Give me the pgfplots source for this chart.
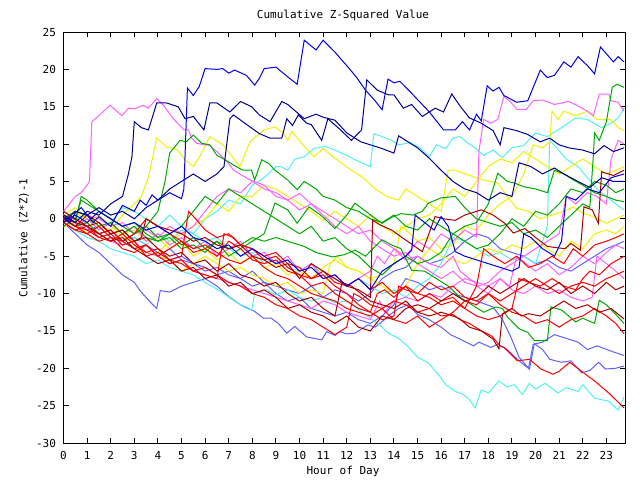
\documentclass[border=0pt]{standalone}
\usepackage{pgfplots}
\pgfplotsset{compat=1.18}
\usepackage{fontspec}
\setmainfont{DejaVu Sans Mono}
\definecolor{cR}{HTML}{FF0000}
\definecolor{cDR}{HTML}{A80000}
\definecolor{cG}{HTML}{00A800}
\definecolor{cB}{HTML}{0000E0}
\definecolor{cNB}{HTML}{000090}
\definecolor{cLB}{HTML}{6060FF}
\definecolor{cM}{HTML}{FF60FF}
\definecolor{cC}{HTML}{50F0F0}
\definecolor{cY}{HTML}{F0F000}
\newcommand{\gf}{\fontsize{11bp}{12bp}\selectfont}
\begin{document}
\begin{tikzpicture}
\useasboundingbox (0,0) rectangle (640bp,480bp);
\begin{axis}[at={(63.5bp,37bp)},anchor=south west,scale only axis,
  width=561.5bp,height=411bp,xmin=0,xmax=23.79,ymin=-30,ymax=25,
  xtick={0,1,2,3,4,5,6,7,8,9,10,11,12,13,14,15,16,17,18,19,20,21,22,23},
  xticklabels={0,1,2,3,4,5,6,7,8,9,10,11,12,13,14,15,16,17,18,19,20,21,22,23},
  ytick={-30,-25,-20,-15,-10,-5,0,5,10,15,20,25},
  yticklabels={-30,-25,-20,-15,-10,-5,0,5,10,15,20,25},
  tick align=inside, major tick length=5bp,
  tick style={black,line width=1bp},
  axis line style={black,line width=1bp},
  ticklabel style={font=\gf},
  xticklabel style={yshift=-5bp},
  yticklabel style={xshift=-4bp},
  every axis plot/.append style={line width=1bp,line join=miter,mark=none},
  clip=true]
% LB2
\addplot[cLB] coordinates {(0,0)(0.5,-1)(1,-0.5)(1.5,-2)(2,-1.5)(2.5,-3)(3,-2.5)(3.5,-3.5)(4,-4.5)(4.5,-5.5)(5,-5)(5.5,-6)(6,-6.5)(6.5,-7.5)(7,-7)(7.5,-8)(8,-9)(8.5,-8.5)(9,-10)(9.5,-11)(10,-10.5)(10.5,-12)(11,-12.5)(11.5,-13)(12,-12.5)(12.5,-13.5)(13,-14)(13.5,-13)(14,-11.5)(14.3,-9)(14.5,-8)(15,-8.5)(15.5,-9.5)(16,-9)(16.5,-10)(17,-10.5)(17.5,-11)(18.2,-11.8)(18.6,-13.5)(18.95,-15.8)(19.3,-18.5)(19.7,-20)(19.9,-16.8)(20.3,-16.5)(20.8,-15.5)(21.3,-16)(21.8,-16.5)(22.2,-17.5)(22.6,-17)(23.2,-17.7)(23.75,-18.3)};
% LB1
\addplot[cLB] coordinates {(0,-0.5)(0.5,-2)(1,-3.5)(1.5,-4.5)(2,-6)(2.5,-7.5)(3,-8.5)(3.24,-9.6)(3.66,-11.1)(3.95,-12)(4.1,-9.6)(4.5,-9.8)(5,-9)(5.5,-8.5)(6,-8)(6.5,-9)(7,-10.4)(7.5,-11.5)(8.1,-12.4)(8.47,-13.3)(8.8,-13.3)(9.1,-14)(9.46,-15.3)(9.8,-14.4)(10.3,-15.8)(10.94,-16.2)(11.15,-15.1)(11.5,-15.6)(11.7,-15.1)(12,-15.4)(12.35,-15.3)(12.9,-14.2)(13.2,-14.5)(13.6,-13.5)(13.8,-12.9)(14.2,-12)(14.6,-11.5)(15,-12.8)(15.5,-13.5)(16,-14.5)(16.4,-15.5)(16.8,-16.1)(17.37,-17)(17.6,-16.5)(18.1,-17.2)(18.4,-16.8)(18.8,-17.5)(19.3,-19)(19.74,-20.1)(19.95,-16.7)(20.3,-17.5)(20.6,-18.8)(21.1,-19.2)(21.5,-19)(21.95,-20.6)(22.3,-20.3)(22.67,-19.2)(22.96,-20.1)(23.4,-20)(23.75,-19.7)};
% LB3
\addplot[cLB] coordinates {(0,0.5)(0.5,-0.5)(1,-1.5)(1.5,-1)(2,-2.5)(2.5,-3)(3,-4)(3.5,-3.5)(4,-5)(4.5,-4)(5,-5.5)(5.5,-6)(6,-7)(6.5,-6.5)(7,-7.5)(7.5,-8)(8,-7)(8.5,-8.5)(9,-9)(9.5,-9.5)(10,-10)(10.5,-9)(11,-10.5)(11.5,-9.5)(12,-10)(12.5,-11)(13,-10)(13.5,-8)(14,-7)(14.5,-6.5)(15,-5)(15.5,-6)(16,-5.5)(16.5,-4.5)(17,-3)(17.5,-2)(18,-2.5)(18.5,-4)(19,-4.5)(19.5,-5)(20,-6)(20.5,-5.5)(21,-6.5)(21.5,-7)(22,-6)(22.5,-5)(23,-4)(23.4,-3.5)(23.75,-3)};
% C-low
\addplot[cC] coordinates {(0,-0.5)(0.5,-1.5)(1,-2.5)(1.5,-3)(2,-4)(2.5,-4.5)(3,-5)(3.5,-6)(4,-5.5)(4.5,-6.5)(5,-7)(5.5,-7.5)(6,-8.5)(6.6,-9.6)(7.2,-10.9)(7.76,-12)(7.97,-12.2)(8.1,-10)(8.6,-9.5)(9,-10.2)(9.5,-9.5)(10,-10.5)(10.5,-11)(11,-10.5)(11.5,-11.2)(12,-11)(12.35,-11.8)(13,-13.3)(13.4,-14.2)(13.76,-15.3)(14.2,-16)(14.6,-17.1)(15,-18.5)(15.46,-19.3)(15.9,-20.9)(16.2,-22.2)(16.6,-23.1)(16.94,-23.5)(17.2,-24.2)(17.44,-25.3)(17.7,-22.9)(18,-23.3)(18.45,-21.7)(18.8,-22.5)(19.1,-22.2)(19.45,-23.5)(19.74,-22)(20,-22.8)(20.4,-22)(20.95,-23.3)(21.3,-22.6)(21.8,-23.1)(22,-22.2)(22.5,-24)(23.1,-24.4)(23.5,-25.6)(23.75,-23.8)};
% C mid
\addplot[cC] coordinates {(0,1)(0.5,0)(1,0.5)(1.5,-1)(2,-0.5)(2.5,1.5)(3,1)(3.5,0)(4,-1)(4.5,0.5)(5,-1)(5.5,-2)(6,-3)(6.5,-2.5)(7,-4)(7.5,-5)(8,-4.5)(8.5,-6)(9,-5)(9.5,-6.5)(10,-7)(10.5,-6)(11,-7.5)(11.5,-8)(12,-9)(12.5,-8)(13,-9)(13.5,-10)(14,-9.5)(14.5,-10.5)(15,-9)(15.5,-8)(16,-6)(16.5,-2.5)(17,-3)(17.5,-4)(18,-5)(18.5,-4.5)(19,-5.5)(19.5,-5)(20,-6)(20.5,-1)(20.6,10.5)(20.9,9.5)(21.3,8)(21.8,7)(22.2,5.5)(22.6,4)(23,3)(23.4,2)(23.75,1.2)};
% C1
\addplot[cC] coordinates {(0,-0.5)(0.5,-1.5)(1,-1)(1.5,-2.5)(2,-2)(2.5,-3)(3,-2.5)(3.5,-3.5)(4,-2)(4.5,-3)(5,-1.5)(5.5,-2)(6,0)(6.5,1)(7,2.5)(7.5,2)(8,4.5)(8.5,5.5)(9,7)(9.2,7)(9.5,6.5)(9.8,8)(10.2,8.3)(10.6,9.4)(11.1,9.7)(11.5,9.2)(12,8.5)(12.35,7.9)(13,7)(13.15,11.4)(13.5,11)(13.9,10.5)(14.2,9.9)(14.7,10.2)(15.1,9.5)(15.5,8.3)(15.8,9.9)(16.2,9.4)(16.5,10.8)(16.8,11)(17.1,10.2)(17.44,9.5)(17.8,8.5)(18.2,9.2)(18.6,8.2)(19,9.5)(19.5,9.8)(20,11.5)(20.5,11)(21.1,12.2)(21.7,13.5)(22.2,13.3)(22.8,12.2)(23.2,12.8)(23.5,13.5)(23.75,14.8)};
% Y1
\addplot[cY] coordinates {(0,0)(0.5,1)(1,-0.5)(1.5,0.5)(2,-1)(2.5,-2)(3,-1.5)(3.5,-3)(4,-2.5)(4.5,-4)(5,-3)(5.5,-5)(6,-4)(6.5,-5.5)(7,-4.5)(7.5,-6)(8,-5)(8.5,-6.5)(9,-6)(9.5,-7.5)(10,-7)(10.5,-8)(11,-6.5)(11.5,-5.5)(12,-6.5)(12.5,-7)(13,-8)(13.5,-7.5)(14,-6)(14.3,-1)(14.7,-2)(15,-3)(15.5,-2.5)(16,-4)(16.5,-3.5)(17,-1)(17.5,-1.5)(18,0.5)(18.5,2)(19,3)(19.5,6)(19.9,9.9)(20.3,9.5)(20.6,10.3)(20.7,14.4)(20.95,13.3)(21.2,14.4)(21.7,13.8)(22.2,14.4)(22.6,13.3)(23.17,13.3)(23.5,12.2)(23.75,11.8)};
% Y2
\addplot[cY] coordinates {(0,-1)(0.5,-0.5)(1,-2)(1.5,-1)(2,-1.5)(2.5,0.5)(3,2)(3.3,3)(3.6,5.6)(3.95,10.8)(4.37,9.6)(4.8,9.3)(5.15,7.9)(5.5,7)(5.8,8.5)(6.2,11)(6.77,9.9)(7.1,8.5)(7.48,7)(7.9,10.3)(8.5,11.9)(8.96,12.3)(9.3,11.5)(9.5,10.5)(9.67,11.7)(10.2,9.7)(10.6,8.3)(11,9.4)(11.5,8.1)(12.2,6.5)(12.7,5.5)(13.2,4)(13.7,3)(14.2,2.5)(14.5,4)(15,3)(15.5,2)(16,1)(16.3,6.5)(16.6,6.5)(17.4,5.6)(17.8,5.2)(18.4,4.8)(18.8,3)(19.2,1.4)(19.7,1)(20.2,0)(20.7,0.5)(21.2,1)(21.6,1.6)(22,0.8)(22.5,0.2)(23,-0.6)(23.4,0)(23.75,0.5)};
% Y3
\addplot[cY] coordinates {(0,0.5)(0.5,1.5)(1,0)(1.5,-1)(2,-0.5)(2.5,-2.5)(3,-3)(3.5,-4.5)(4,-5)(4.5,-5.5)(5,-7)(5.5,-6)(6,-5)(6.5,-6)(7,-7)(7.5,-6.5)(8,-7.5)(8.5,-8)(9,-9)(9.5,-8.5)(10,-10)(10.5,-9.5)(11,-10)(11.3,-6)(11.6,-5)(12,-6.5)(12.5,-7)(13,-8)(13.5,-9)(14,-10)(14.5,-9)(15,-6)(15.5,-4)(16,-5)(16.5,-5.5)(17,-6)(17.5,-5)(18,-4)(18.5,-4.5)(19,-3.5)(19.5,-4)(20,-3)(20.5,-4)(21,-5)(21.5,-3)(22,-4)(22.5,-2)(23,-1.5)(23.4,-2)(23.75,-1)};
% Y4
\addplot[cY] coordinates {(0,0)(0.5,-1)(1,-0.5)(1.5,-2)(2,-3)(2.5,-2)(3,-3.5)(3.5,-5)(4,-4.5)(4.5,-3)(5,-2)(5.5,-1)(6,0)(6.5,2)(7,1)(7.5,3)(8,3)(8.5,4.5)(9,4)(9.5,3)(10,2)(10.5,1)(11,-0.2)(11.5,1)(12,0)(12.5,-1)(13,0.5)(13.5,-1)(14,-2)(14.5,-1)(15,0)(15.5,0.5)(16,2)(16.5,4)(17,3)(17.5,5)(18,7)(18.5,8)(19,7.5)(19.5,9)(20,8)(20.5,7)(21,6)(21.5,7)(22,8)(22.5,7)(23,6)(23.4,6.5)(23.75,7)};
% M1
\addplot[cM] coordinates {(0,1)(0.25,2)(0.5,3)(0.75,3.5)(1,4.5)(1.1,5)(1.2,13)(1.5,13.8)(1.97,15.2)(2.47,13.8)(2.75,14.8)(3,14.7)(3.38,15.2)(3.6,14.8)(3.95,16.1)(4.23,15.2)(4.65,13.4)(5.1,11.9)(5.3,11.9)(5.43,10.8)(5.64,10.1)(6.2,9.8)(6.5,9)(7,7.4)(7.2,6.5)(7.9,5.2)(8.5,4.5)(9,3)(9.5,2.5)(10,1.2)(10.5,2)(11,0.5)(11.5,-1)(12,-2)(12.5,-1)(13,-3)(13.5,-4)(14,-5)(14.5,-4.5)(15,-6)(15.5,-7)(16,-8)(16.5,-7)(17,-8.5)(17.5,-9)(18,-10)(18.5,-8)(18.9,-9)(19.2,-5)(19.6,-6)(20,-7)(20.5,-6)(21,-7.5)(21.5,-6.5)(22,-5)(22.5,-6)(23,-4.5)(23.4,-3.5)(23.75,-4)};
% M2
\addplot[cM] coordinates {(0,0)(0.5,-1)(1,0)(1.5,-1.5)(2,-0.5)(2.5,-2)(3,-1)(3.5,-3)(4,-2)(4.5,-3.5)(5,-2.5)(5.5,-4)(6,-3)(6.5,-5)(7,-4)(7.5,-3)(8,-5)(8.5,-4.5)(9,-6)(9.5,-5)(10,-7)(10.5,-6)(11,-8)(11.5,-7.5)(12,-9)(12.5,-8)(13,-7)(13.3,-5)(13.6,-6)(14,-4)(14.5,-5)(15,-3)(15.5,-4)(16,-2)(16.5,-3)(17,-1.5)(17.5,-2.4)(17.6,9)(17.8,13.3)(18.1,12.8)(18.4,13.3)(18.66,16.4)(18.95,15.6)(19.23,14.6)(19.6,14.6)(19.9,15.8)(20.3,15.9)(20.8,15.3)(21.4,15.7)(21.8,15.1)(22.2,14.4)(22.45,13.8)(22.7,16.7)(23.1,16.7)(23.2,15.8)(23.5,15.6)(23.75,14.4)};
% M3
\addplot[cM] coordinates {(0,0)(0.5,-0.5)(1,-1.5)(1.5,-2)(2,-3)(2.5,-3.5)(3,-3)(3.5,-4.5)(4,-5)(4.5,-6)(5,-5.5)(5.5,-7)(6,-7.5)(6.5,-8)(7,-8.5)(7.5,-9)(8,-9.5)(8.5,-10)(9,-10.5)(9.5,-11)(10,-11.5)(10.5,-12)(11,-11)(11.5,-11.5)(12,-12.5)(12.5,-13)(13,-13.5)(13.4,-11)(13.6,-12.5)(14,-11)(14.5,-10.5)(15,-11)(15.5,-10)(16,-10.5)(16.5,-9)(17,-8)(17.5,-8.5)(18,-9)(18.5,-8)(19,-9.5)(19.5,-10)(20,-9)(20.5,-10)(21,-9.5)(21.5,-10.5)(22,-11)(22.4,-10.5)(22.6,-5)(23,-6)(23.4,-7)(23.75,-8)};
% M4
\addplot[cM] coordinates {(0,0)(0.5,1)(1,0.5)(1.5,0)(2,-1)(2.5,-0.5)(3,-2)(3.5,-1.5)(4,-2.5)(4.5,-1)(5,-2)(5.5,-1)(6,1)(6.5,3)(7,4)(7.5,3.5)(8,5)(8.5,4)(9,3.5)(9.5,2.5)(10,3.4)(10.5,2)(11,1)(11.5,0)(12,-1)(12.5,-2)(13,-1.5)(13.5,-3)(14,-4)(14.5,-5.5)(15,-5)(15.5,-6)(16,-6.5)(16.5,-5)(16.8,-7)(17.2,-8)(17.6,-9)(18,-8.5)(18.5,-7)(19,-6)(19.5,-5)(20,-4)(20.5,-3)(21,-2)(21.3,3)(21.7,2)(22.2,3.5)(22.6,3)(23,2)(23.2,8)(23.5,10.5)(23.75,10)};
% G1
\addplot[cG] coordinates {(0,-1)(0.5,0)(0.75,2.5)(1,2)(1.5,1)(2,0)(2.5,-1)(3,-2)(3.5,-1)(4,1)(4.3,5)(4.5,8.8)(4.94,10.5)(5.2,10.3)(5.5,11.2)(5.86,10.1)(6.2,9.9)(6.5,8.5)(6.8,8)(7.2,7.2)(7.6,6.5)(7.97,6.5)(8.1,5.2)(8.4,7.9)(8.7,7.4)(8.96,6.5)(9.5,5.2)(9.9,3.9)(10.2,5)(10.7,4)(11,3)(11.5,2.5)(12,1.5)(12.5,1)(13,0)(13.5,-0.5)(14,0.5)(14.5,-1)(15,-1.5)(15.5,0)(16,-1)(16.5,-2)(17,-1)(17.5,-0.5)(18,2)(18.4,6.1)(18.8,5)(19.1,4.8)(19.5,4.3)(20,4)(20.5,3.5)(20.8,6.5)(21.2,6)(21.6,5.2)(22,4.5)(22.5,3.5)(23,3)(23.4,2.5)(23.75,2.3)};
% G-right
\addplot[cG] coordinates {(0,0)(0.5,-1)(1,-0.5)(1.5,-2)(2,-1.5)(2.5,-3)(3,-2)(3.5,-1)(4,-2.5)(4.5,-2)(5,-3.5)(5.5,-2.5)(6,-4)(6.5,-3)(7,-5)(7.5,-4)(8,-3)(8.5,-2)(8.96,2.1)(9.5,1.2)(9.9,-0.6)(10.4,1.6)(10.9,0.5)(11.5,-1.3)(12,0.5)(12.35,2.1)(12.8,1)(13.5,-0.6)(13.9,0.2)(14.3,0.7)(14.8,0.5)(15.2,1)(15.46,2.1)(16,2.8)(16.6,3)(17,1.5)(17.5,0)(18,-0.5)(18.5,-1)(19,-0.5)(19.5,-2)(20,-1.5)(20.5,-2.5)(21,-1)(21.5,0.5)(22,2)(22.3,1.5)(22.46,9)(22.5,11.5)(22.7,10.5)(23,13)(23.25,17.6)(23.45,18)(23.75,17.6)};
% G2
\addplot[cG] coordinates {(0,0.5)(0.5,-0.5)(0.75,3)(1,2.5)(1.5,1)(2,0)(2.5,-1)(3,-0.5)(3.5,-2)(4,-3)(4.5,-2.5)(5,-4)(5.5,-3.5)(6,-4.5)(6.5,-3)(7,-4)(7.5,-3.5)(8,-2.5)(8.5,-3)(9,-2.5)(9.5,-3)(10.2,-3.7)(10.7,-4.5)(11.4,-5.1)(11.9,-4.8)(12.35,-4.2)(12.8,-5)(13.2,-3.7)(13.5,-2.8)(13.9,-3.5)(14.3,-4)(14.75,-6.9)(15.3,-7)(15.9,-8.2)(16.3,-9)(16.8,-10.5)(17.2,-11.3)(17.8,-12.5)(18.3,-11.8)(18.6,-12)(18.8,-13.1)(19.3,-14.7)(19.67,-15.2)(19.95,-16.3)(20.5,-16.3)(20.65,-11.8)(21.1,-12.2)(21.7,-13.8)(22,-13.3)(22.5,-14)(22.7,-10.9)(23,-11.5)(23.4,-12.8)(23.75,-14)};
% G3
\addplot[cG] coordinates {(0,0)(0.5,1)(1,0.5)(1.5,-1)(2,-0.5)(2.5,-2)(3,-1)(3.5,-2.5)(4,-3)(4.5,-2)(5,-1)(5.5,1)(6,3)(6.5,2)(7,4)(7.5,3)(8,2)(8.5,1)(9,0)(9.5,-1)(10,-2)(10.5,-1)(11,-3)(11.5,-2.5)(12,-4)(12.5,-5)(13,-6.5)(13.5,-7.5)(14,-6)(14.5,-5)(15,-6)(15.5,-5.5)(16,-4.5)(16.5,-2)(17,-3)(17.5,-4)(18,-3.5)(18.5,-2)(19,0)(19.5,-1)(20,1)(20.5,0.5)(21,2)(21.5,4)(22,3.5)(22.5,5)(23,4.5)(23.4,3.5)(23.75,4)};
% R1
\addplot[cR] coordinates {(0,0)(0.5,-1)(1,-1.5)(1.5,-2.5)(2,-3)(2.5,-2)(3,-3.5)(3.5,-4.5)(4,-4)(4.5,-5.5)(5,-6)(5.5,-7)(6,-6.5)(6.5,-7.5)(7,-8.5)(7.5,-9)(8,-10)(8.5,-10.5)(9,-11.5)(9.5,-12)(10,-13)(10.5,-13.5)(11,-14.5)(11.5,-15.5)(12,-14.5)(12.3,-10)(12.6,-10.5)(13,-11.5)(13.5,-12)(14,-11)(14.5,-11.5)(15,-12.5)(15.5,-12)(16,-13)(16.5,-12.8)(16.8,-13.5)(17.2,-14)(17.65,-14.9)(18.15,-15.7)(18.5,-17)(18.66,-17.2)(19.23,-19)(19.74,-18.8)(20.23,-20.1)(20.74,-20.8)(21,-20.4)(21.45,-19.2)(21.95,-20.4)(22.5,-21.7)(23.1,-23.3)(23.75,-25.3)};
% R2
\addplot[cR] coordinates {(0,-0.5)(0.5,-1.5)(1,-1)(1.5,-2.5)(2,-2)(2.5,-3.5)(3,-3)(3.5,-5)(4,-4.5)(4.5,-5.5)(5,-5)(5.3,1)(5.6,0)(6,-1.5)(6.5,-2.5)(7,-2)(7.5,-3.5)(8,-4)(8.5,-5)(9,-4.5)(9.5,-6)(10,-6.5)(10.5,-8)(11,-7.5)(11.5,-9)(12,-10)(12.5,-11.5)(13,-12.5)(13.3,-10)(13.6,-9.5)(14,-10.5)(14.5,-9)(15,-10)(15.5,-8.5)(16,-9.5)(16.5,-9)(17,-10.5)(17.5,-11)(18,-10)(18.5,-11.5)(19,-12.5)(19.5,-13)(20,-14)(20.5,-13.5)(21,-14.5)(21.5,-13.5)(22,-13)(22.5,-12)(23,-13)(23.4,-14)(23.75,-15.4)};
% R3
\addplot[cR] coordinates {(0,-0.5)(0.5,-1.5)(1,-2)(1.5,-1)(2,-2.5)(2.5,-3)(3,-4)(3.5,-3.5)(4,-5)(4.5,-4)(5,-3)(5.5,-4.5)(6,-4)(6.5,-5)(7,-3)(7.5,-4)(8,-5.5)(8.5,-6)(9,-5.5)(9.5,-7)(10,-7.5)(10.5,-8)(11,-7)(11.5,-8.5)(12,-9)(12.5,-8)(13,-9.5)(13.5,-8.5)(14,-10)(14.5,-9)(15,-11)(15.5,-10)(16,-11)(16.5,-10.5)(17,-12)(17.5,-9)(17.8,-4)(18.2,-5)(18.7,-6)(19.2,-5)(19.7,-6.5)(20.2,-6)(20.7,-5)(21.2,-6)(21.6,-4)(22,-5)(22.5,-3.5)(23,-3)(23.4,-2.5)(23.75,-2)};
% R4
\addplot[cR] coordinates {(0,0)(0.5,-1)(1,-2)(1.5,-3)(2,-2.5)(2.5,-4)(3,-4.5)(3.5,-3.5)(4,-5)(4.5,-6)(5,-5.5)(5.5,-7)(6,-7.5)(6.5,-8)(6.8,-2)(7.2,-2.5)(7.5,-3.5)(8,-4)(8.5,-5.5)(9,-5)(9.5,-6.5)(10,-7.5)(10.5,-9)(11,-8.5)(11.5,-10)(12,-11)(12.5,-12)(13,-12.5)(13.5,-13.5)(14,-13)(14.2,-9)(14.5,-9.5)(15,-10)(15.5,-10.5)(16,-11.5)(16.5,-11)(17,-12)(17.5,-13)(18,-13.5)(18.5,-13)(19,-12)(19.3,-8)(19.7,-8.5)(20.2,-9)(20.7,-8)(21.2,-9)(21.7,-9.5)(22,-8)(22.3,-7)(22.7,-7.5)(23.2,-6)(23.75,-5)};
% R5
\addplot[cR] coordinates {(0,0.5)(0.5,0)(1,-1)(1.5,-2)(2,-1.5)(2.5,-3)(3,-2)(3.5,0)(4,-1)(4.5,-2)(5,-3)(5.5,-4)(6,-3.5)(6.5,-4.5)(7,-5.5)(7.5,-6)(8,-5)(8.5,-6.5)(9,-7.5)(9.5,-8)(10,-9)(10.5,-10)(11,-10.5)(11.5,-11)(12,-12)(12.5,-12.5)(13,-13)(13.5,-12)(14,-13.5)(14.5,-14)(15,-13)(15.5,-14.5)(16,-13.5)(16.5,-12.5)(17,-11)(17.5,-11.5)(18,-10)(18.5,-11)(19,-10)(19.5,-9)(20,-8)(20.5,-9)(21,-10)(21.5,-9)(22,-8.5)(22.5,-9)(23,-8)(23.4,-7.5)(23.75,-7)};
% DR1
\addplot[cDR] coordinates {(0,1)(0.5,0)(1,-1)(1.5,-0.5)(2,-2)(2.5,-1.5)(3,-3)(3.5,-2.5)(4,-4)(4.5,-5)(5,-4.5)(5.5,-6)(6,-5.5)(6.5,-7)(7,-6)(7.5,-7.5)(8,-8)(8.5,-9)(9,-8.5)(9.5,-10)(10,-11)(10.5,-10.5)(11,-12)(11.5,-13)(11.8,-8.5)(12.2,-9)(12.6,-10)(13,-11)(13.5,-11.5)(14,-12)(14.5,-11)(15,-12.5)(15.5,-13)(16,-12.5)(16.5,-13)(16.8,-13.4)(17.2,-14.5)(17.7,-15)(18.2,-16.1)(18.45,-17.4)(18.6,-12.7)(19,-12)(19.4,-13)(19.7,-12.7)(20.2,-13)(20.7,-12)(21.2,-11)(21.7,-12)(22.2,-11.5)(22.7,-12.5)(23.2,-12)(23.75,-13.4)};
% DR2
\addplot[cDR] coordinates {(0,0)(0.5,-1)(1,0.5)(1.5,-0.5)(2,-2)(2.5,-1.5)(3,-3)(3.3,-2.5)(3.5,0)(4,-1)(4.5,-1.5)(5,-2)(5.5,-3)(6,-2.5)(6.5,-3.5)(7,-4)(7.5,-3.5)(8,-5)(8.5,-5.5)(9,-6.5)(9.5,-6)(10,-8)(10.5,-6)(11,-7)(11.5,-8)(12,-9)(12.5,-9.5)(13,-10.5)(13.1,-0.2)(13.4,-0.8)(13.9,-1.5)(14.3,-2.4)(14.8,-3.5)(15.2,-4.4)(15.46,-2.2)(15.74,0.3)(16.1,0)(16.6,-0.2)(17,0.5)(17.7,1.2)(18.2,0.5)(18.7,-0.6)(19.06,-1.9)(19.55,-1.3)(20,-2.5)(20.5,-3.7)(21.25,-4)(21.5,-3.3)(21.9,-4.2)(22.05,1.6)(22.4,1.2)(22.66,-0.6)(22.8,6.3)(23.3,5.8)(23.75,6.5)};
% DR3
\addplot[cDR] coordinates {(0,0)(0.5,-0.5)(1,-1)(1.5,-2)(2,-3)(2.5,-2.5)(3,-4)(3.5,-5)(4,-6)(4.5,-5.5)(5,-7)(5.5,-6.5)(6,-8)(6.5,-7.5)(7,-9)(7.5,-8.5)(8,-10)(8.5,-9.5)(9,-10.5)(9.5,-12)(10,-11.5)(10.5,-12.5)(11,-13)(11.5,-14)(12,-13)(12.5,-14.5)(13,-15)(13.5,-13)(14,-13.5)(14.5,-12)(15,-11.5)(15.5,-12)(16,-11)(16.5,-10)(17,-11)(17.5,-10.5)(18,-9)(18.5,-10)(19,-9)(19.5,-8)(20,-9)(20.5,-9.5)(21,-8.5)(21.5,-10)(22,-9)(22.5,-10)(23,-8.5)(23.4,-9.5)(23.75,-9)};
% Blue mid
\addplot[cB] coordinates {(0,-0.5)(0.5,0.5)(1,-0.5)(1.5,1)(2,0)(2.5,-1)(3,-0.5)(3.5,-1.5)(4,-1)(4.5,-2)(5,-1)(5.5,-2.5)(6,-3)(6.5,-4)(7,-3.5)(7.5,-5)(8,-4)(8.5,-5)(9,-6)(9.5,-5.5)(10,-7)(10.5,-6.5)(11,-8)(11.5,-7.5)(12,-9)(12.5,-8)(13,-9.5)(13.5,-7)(14,-6)(14.5,-5)(14.75,-4.2)(14.9,0.5)(15.3,-0.5)(15.7,-1.5)(16,0.3)(16.3,-1)(16.6,-4.4)(17,-5)(17.5,-5.5)(18,-6)(18.5,-6.5)(19,-7)(19.3,-6.5)(19.5,-2)(19.8,-2.5)(20.3,-4)(20.8,-5)(21.1,-3)(21.3,3)(21.7,2.5)(22.2,4)(22.7,3.5)(23.2,5.5)(23.75,6)};
% L2
\addplot[cNB] coordinates {(0,0.5)(0.5,-0.5)(1,1)(1.5,0.5)(2,2)(2.5,3)(2.75,6)(2.9,8.3)(3.0,13)(3.3,12.2)(3.6,11.9)(3.95,15.5)(4.37,15.5)(4.86,15)(5.15,13.4)(5.5,13.7)(5.95,11.9)(6.2,15.5)(6.5,15.5)(7.05,14.3)(7.5,15.7)(7.97,15)(8.3,13.9)(8.75,13)(9.25,15.7)(9.5,15.3)(10.2,13.4)(10.7,14)(11,13.6)(11.5,13.2)(12,11.5)(12.6,10.3)(13.5,9.4)(14,8.8)(14.2,11.1)(15,9.5)(15.5,8.1)(16,6.5)(16.5,5)(17,4)(17.5,3.5)(18,2.5)(18.5,3.5)(19,3)(19.3,7.5)(19.8,7)(20.3,6)(20.8,6.8)(21.2,6)(21.8,5)(22.3,4.2)(22.8,5.5)(23.3,5)(23.75,5)};
% B
\addplot[cNB] coordinates {(0,-0.5)(0.5,1)(1,0.5)(1.5,1.5)(2,0.5)(2.5,1)(3,0)(3.5,1.5)(4,2.5)(4.5,4)(5,5)(5.5,6)(6,5)(6.5,6)(6.8,7)(7.05,13.4)(7.2,13.9)(7.9,12.3)(8.3,11.4)(8.75,10.8)(9.25,10.8)(9.46,13.4)(9.7,12.5)(9.95,13.9)(10.3,12.8)(10.5,12.6)(10.94,10.5)(11.2,13.4)(11.7,12)(12.2,10.5)(12.63,11.9)(12.85,18.6)(13.3,17.2)(13.76,16.6)(14,16.6)(14.4,14.8)(14.75,15.3)(15.2,13.7)(15.75,14.8)(16.1,14.3)(16.45,16.7)(16.8,15.1)(17.2,13.5)(17.7,12.8)(18.2,11.8)(18.5,9.9)(18.66,12.2)(19.2,11.8)(19.66,11.3)(20.2,10.3)(20.6,10.8)(21,9.9)(21.4,9.5)(22,9.2)(22.5,8.7)(22.9,9.8)(23.3,9)(23.75,9.5)};
% A
\addplot[cB] coordinates {(0,0.3)(0.25,-0.5)(0.5,0.8)(0.75,1.5)(1,0.5)(1.25,-0.5)(1.5,0.3)(2,-1)(2.25,0.5)(2.5,1.8)(3,1)(3.25,2.5)(3.5,1.8)(3.75,3.2)(4,2.5)(4.5,3.5)(5,2.7)(5.1,4)(5.25,17.5)(5.5,16.5)(5.75,17.7)(6,20.1)(6.5,20)(6.75,20.1)(7,19.5)(7.25,19.9)(7.75,19.2)(8.1,17.9)(8.3,18.8)(8.5,20.1)(9,20.3)(9.5,19)(9.9,18)(10.2,23.9)(10.7,22.6)(11,23.9)(11.5,22.3)(12,20.5)(12.4,19)(12.8,17.2)(13.2,15.8)(13.5,14.6)(13.75,18.7)(14,18.2)(14.25,18.4)(14.75,16.8)(15.5,14.3)(16.1,11.9)(16.6,11.9)(16.9,13)(17.2,11.9)(17.5,14)(17.7,13.1)(17.95,17.8)(18.2,17.1)(18.45,17.6)(18.66,16.5)(19.2,15.6)(19.67,15.8)(20.2,19.9)(20.5,18.9)(20.8,19.2)(21.2,21)(21.5,20.3)(21.8,21.7)(22.2,20.5)(22.5,19.4)(22.75,23)(23.3,21)(23.5,21.7)(23.75,21)};
\end{axis}
\node[font=\gf] at (343bp,465bp) {Cumulative Z-Squared Value};
\node[font=\gf] at (343bp,9bp) {Hour of Day};
\node[font=\gf,rotate=90] at (24bp,242bp) {Cumulative (Z*Z)-1};
\end{tikzpicture}
\end{document}
